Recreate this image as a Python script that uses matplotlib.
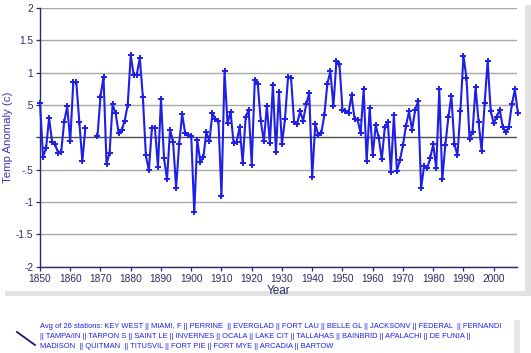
import numpy as np
import matplotlib
matplotlib.use('Agg')
import matplotlib.pyplot as plt
from matplotlib.patches import Rectangle

plt.rcParams['font.family'] = ['Liberation Sans', 'DejaVu Sans']

W, H = 531, 353

years = np.arange(1850, 2009)
temps = [
    0.53, -0.30, -0.17, 0.30, -0.07, -0.11, -0.24, -0.22, 0.24, 0.48,    # 1850s
    -0.06, 0.85, 0.85, 0.24, -0.37, 0.14, np.nan, np.nan, np.nan, 0.02,  # 1860s
    0.63, 0.94, -0.41, -0.24, 0.51, 0.37, 0.07, 0.11, 0.26, 0.50,        # 1870s
    1.27, 0.96, 0.97, 1.23, 0.63, -0.28, -0.51, 0.15, 0.15, -0.46,       # 1880s
    0.59, -0.32, -0.65, 0.12, -0.07, -0.78, -0.11, 0.36, 0.06, 0.04,     # 1890s
    0.02, -1.16, -0.04, -0.38, -0.31, 0.08, -0.06, 0.37, 0.28, 0.25,     # 1900s
    -0.91, 1.02, 0.22, 0.39, -0.09, -0.07, 0.16, -0.39, 0.32, 0.42,      # 1910s
    -0.42, 0.88, 0.82, 0.25, -0.06, 0.49, -0.09, 0.81, -0.23, 0.70,      # 1920s
    -0.11, 0.29, 0.93, 0.92, 0.24, 0.21, 0.40, 0.26, 0.51, 0.69,         # 1930s
    -0.61, 0.20, 0.04, 0.07, 0.34, 0.83, 1.02, 0.48, 1.18, 1.13,         # 1940s
    0.43, 0.40, 0.38, 0.65, 0.28, 0.27, 0.07, 0.74, -0.37, 0.46,         # 1950s
    -0.27, 0.19, -0.01, -0.34, 0.16, 0.24, -0.54, 0.34, -0.52, -0.35,    # 1960s
    -0.12, 0.18, 0.40, 0.11, 0.42, 0.56, -0.78, -0.44, -0.48, -0.32,     # 1970s
    -0.11, -0.48, 0.74, -0.65, -0.12, 0.31, 0.64, -0.10, -0.28, 0.41,    # 1980s
    1.26, 0.92, -0.02, 0.08, 0.78, 0.24, -0.21, 0.53, 1.18, 0.41,        # 1990s
    0.22, 0.32, 0.43, 0.16, 0.08, 0.16, 0.51, 0.74, 0.37,                # 2000s
]

ytick_vals = [-2, -1.5, -1, -0.5, 0, 0.5, 1, 1.5, 2]
ytick_labels = ['-2', '-1.5', '-1', '-.5', '', '.5', '1', '1.5', '2']
xtick_vals = list(range(1850, 2001, 10))

legend_text = ("Avg of 26 stations: KEY WEST || MIAMI, F || PERRINE  || EVERGLAD || FORT LAU || BELLE GL || JACKSONV || FEDERAL  || FERNANDI\n"
               "|| TAMPA/IN || TARPON S || SAINT LE || INVERNES || OCALA || LAKE CIT || TALLAHAS || BAINBRID || APALACHI || DE FUNIA ||\n"
               "MADISON  || QUITMAN  || TITUSVIL || FORT PIE || FORT MYE || ARCADIA || BARTOW")

navy = '#2a2a66'
blue = '#1f1fe6'


def box(fig, x0, y0, x1, y1, color, z):
    # pixel box, origin top-left
    fig.add_artist(Rectangle((x0 / W, 1 - y1 / H), (x1 - x0) / W, (y1 - y0) / H,
                             transform=fig.transFigure, facecolor=color,
                             edgecolor='none', zorder=z))


fig = plt.figure(figsize=(W / 100, H / 100), dpi=100)
fig.patch.set_facecolor('white')

# panel with drop shadow
box(fig, 5, 5, 531, 296, '#e2e2e2', -10)
box(fig, 0, 0, 525, 291, 'white', -9)
# legend panel
box(fig, 17, 320, 520, 353, '#e6e6e6', -10)
box(fig, 12, 315, 514, 353, 'white', -9)

ax = fig.add_axes([40 / W, 1 - 266.7 / H, (517 - 40) / W, (266.7 - 8) / H])
ax.set_facecolor('none')

for v in ytick_vals:
    if v == 0:
        ax.axhline(v, color='#505050', lw=1.0, zorder=1)
    else:
        ax.axhline(v, color='#a8a8a8', lw=1.0, zorder=1)

ax.plot(years, temps, color=blue, lw=1.5, marker='+', ms=5, mew=1.4,
        zorder=3, clip_on=False)

ax.set_xlim(1850, 2007.7)
ax.set_ylim(-2, 2)
ax.set_xticks(xtick_vals)
ax.set_yticks(ytick_vals)
ax.set_yticklabels(ytick_labels)
ax.tick_params(axis='both', colors=navy, labelsize=7.3, length=3, width=0.9, pad=2)

for s in ['top', 'right']:
    ax.spines[s].set_visible(False)
for s in ['left', 'bottom']:
    ax.spines[s].set_color(navy)
    ax.spines[s].set_linewidth(1.0)

ax.set_xlabel('Year', color=navy, fontsize=8.5, labelpad=1)
ax.set_ylabel('Temp Anomaly (c)', color='#3838a8', fontsize=8.2, va='center')
ax.yaxis.set_label_coords((8.5 - 40) / 477, 0.5)

# legend sample and station list
fig.add_artist(plt.Line2D([17 / W, 35 / W], [1 - 332 / H, 1 - 345 / H],
                          transform=fig.transFigure, color='#1a1a70', lw=1.3))
fig.text(40 / W, 1 - 323.5 / H, legend_text, color=blue, fontsize=5.4,
         va='top', ha='left', linespacing=1.55)

fig.savefig('out.png', dpi=100)
